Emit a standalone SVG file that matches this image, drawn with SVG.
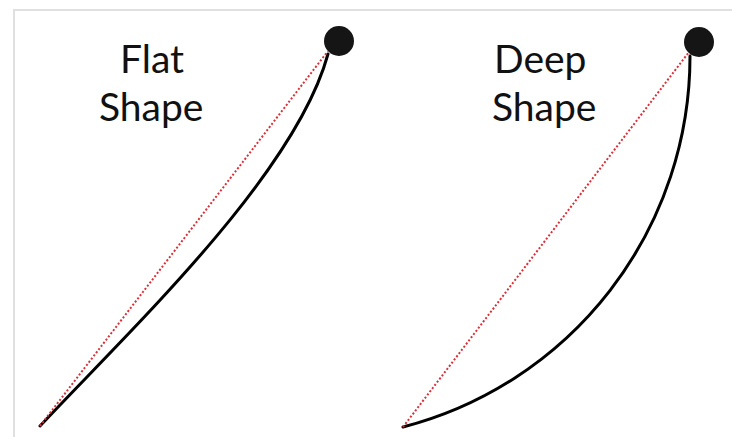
<svg xmlns="http://www.w3.org/2000/svg" width="732" height="437" viewBox="0 0 732 437">
<style>
.lbl{font-family:Lato,"Liberation Sans",sans-serif;font-size:39px;fill:#111}
.curve{fill:none;stroke:#000;stroke-width:3;stroke-linecap:round}
.chord{fill:none;stroke:#d9303a;stroke-width:2;stroke-dasharray:2 2}
.ball{fill:#151515}
</style>
<rect width="732" height="437" fill="#fff"/>
<path d="M14,437 V10 H732" fill="none" stroke="#e0e0e0" stroke-width="2"/>
<g id="flat">
<text class="lbl" x="120" y="73">Flat</text>
<text class="lbl" x="99" y="121">Shape</text>
<circle class="ball" cx="339" cy="41" r="15"/>
</g>
<g id="deep">
<text class="lbl" x="494" y="73">Deep</text>
<text class="lbl" x="492" y="121">Shape</text>
<circle class="ball" cx="699" cy="42" r="15"/>
</g>
<g id="connectors">
<path class="curve" d="M40,426 C130,330 295,175 328,54"/>
<line class="chord" x1="40" y1="426" x2="328" y2="51"/>
<path class="curve" d="M403,427 A383,383 0 0 0 690,56"/>
<line class="chord" x1="403" y1="427" x2="689" y2="52"/>
</g>
</svg>
